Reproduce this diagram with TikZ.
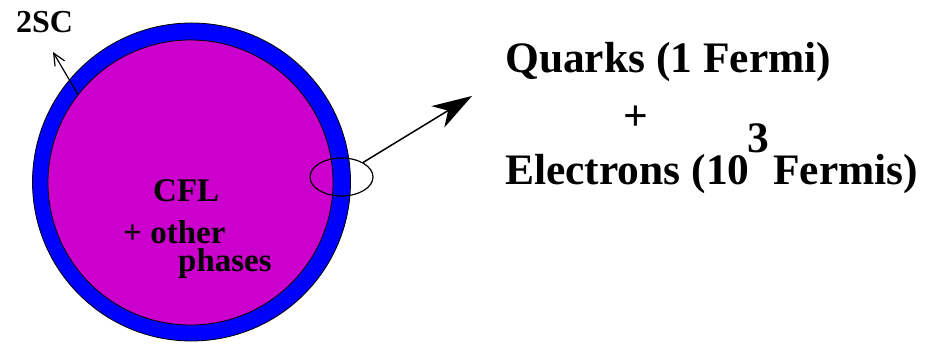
\documentclass[tikz,border=0pt]{standalone}
\usepackage{fontspec}
\setmainfont{Liberation Serif}
\usetikzlibrary{arrows.meta,shapes.geometric}
\definecolor{ringblue}{RGB}{0,0,255}
\definecolor{coremag}{RGB}{204,0,204}
\begin{document}
\begin{tikzpicture}[x=1pt,y=-1pt,
  lbl/.style={anchor=base west,inner sep=0pt,font=\bfseries\fontsize{#1}{#1}\selectfont},
  lbl/.default=33]
\useasboundingbox (0,0) rectangle (925,344);
% star layers
\node[circle,draw=black,line width=0.8pt,fill=ringblue,minimum size=318pt,inner sep=0pt] (outer) at (191.5,182) {};
\node[circle,draw=black,line width=0.8pt,fill=coremag,minimum size=285pt,inner sep=0pt] (inner) at (190.5,182.5) {};
\node[ellipse,draw=black,line width=1.2pt,minimum width=63pt,minimum height=38pt,inner sep=0pt] (ell) at (341.5,177) {};
% labels
\node[lbl=32] (twosc) at (16,33) {2SC};
\node[lbl] (cfl) at (153,202) {CFL};
\node[lbl,text depth=0pt] (other) at (123,244) {+ other};
\node[lbl,text height=21pt] (phases) at (178,272) {phases};
\node[lbl=43.5] (quarks) at (505,73) {Quarks (1 Fermi)};
\node[lbl=43.5] (plus) at (623,131) {+};
\node[lbl=43.5] (elec) at (505,185) {Electrons (10};
\node[lbl=43.5] (three) at (747,153) {3};
\node[lbl=43.5] (fermis) at (773,185) {Fermis)};
% connectors
\coordinate (sctip) at (53,52);
\coordinate (bigtip) at (472,96);
\draw[line width=1.2pt,-{Straight Barb[length=12pt,width=11pt,line width=1.2pt]}] (inner.142.4) -- (sctip);
\draw[line width=1.5pt,-{Stealth[length=40pt,width=25pt,inset=12pt]}] (ell.34) -- (bigtip);
\end{tikzpicture}
\end{document}
